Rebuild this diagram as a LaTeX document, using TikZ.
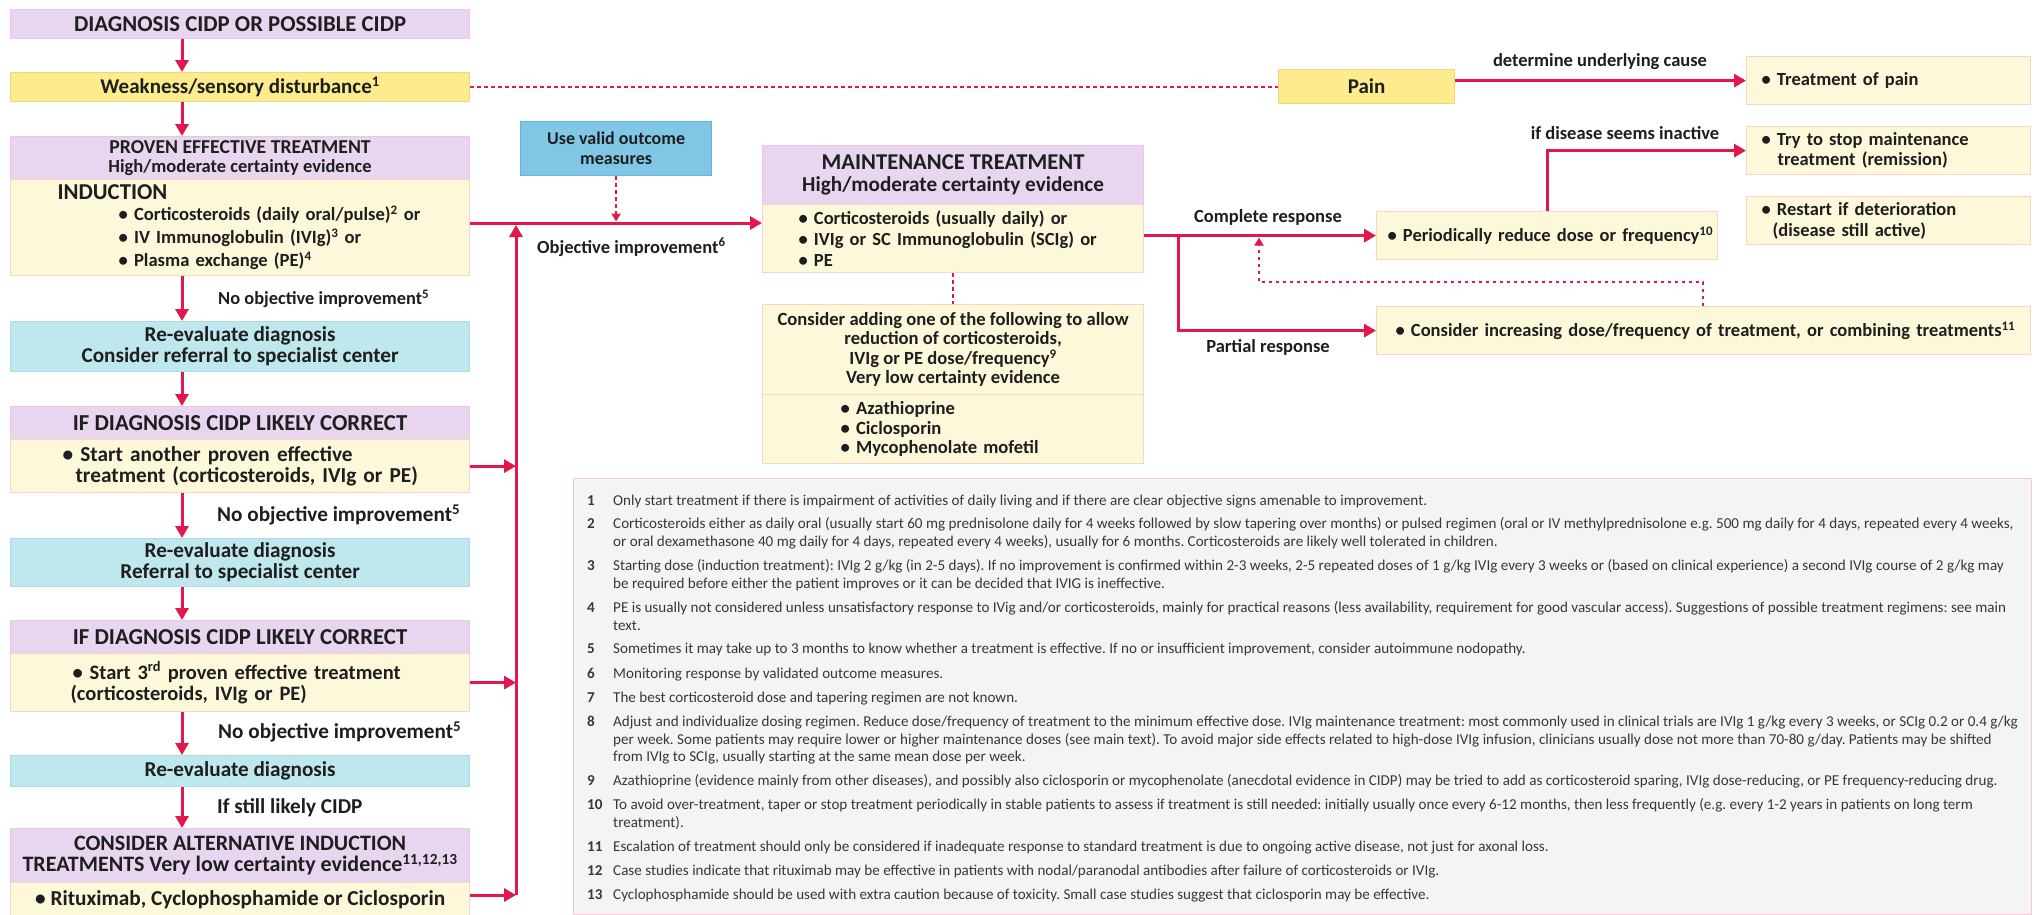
\documentclass[tikz,border=0pt]{standalone}
\usepackage{fontspec}
\setmainfont{Carlito}
\usetikzlibrary{arrows.meta}
\definecolor{lav}{HTML}{E8D6F0}
\definecolor{lavd}{HTML}{F1C4DD}
\definecolor{crm}{HTML}{FDF8DA}
\definecolor{crmd}{HTML}{F8D5C4}
\definecolor{gld}{HTML}{FCEC8E}
\definecolor{gldd}{HTML}{F4D47C}
\definecolor{cyn}{HTML}{BFE8EE}
\definecolor{cynd}{HTML}{A9DCE6}
\definecolor{sky}{HTML}{80C7E5}
\definecolor{skyd}{HTML}{6AB2D8}
\definecolor{rd}{HTML}{E2174B}
\definecolor{fng}{HTML}{F4F4F4}
\definecolor{fnd}{HTML}{F3C9D8}
\definecolor{txt}{HTML}{1E1E1E}
\definecolor{ftx}{HTML}{383838}
\newcommand{\fs}[2]{\fontsize{#1}{#2}\selectfont}
\newcommand{\ind}[1]{\hspace*{#1pt}}
\frenchspacing
\tikzset{
 bx/.style={anchor=north west, inner sep=0pt, line width=1.2pt, text=txt},
 lavb/.style={bx, fill=lav, draw=lavd},
 crmb/.style={bx, fill=crm, draw=crmd},
 gldb/.style={bx, fill=gld, draw=gldd},
 cynb/.style={bx, fill=cyn, draw=cynd},
 skyb/.style={bx, fill=sky, draw=skyd},
 arr/.style={draw=rd, line width=3pt, -{Triangle[length=12pt,width=13pt]}},
 dln/.style={draw=rd, line width=2.5pt, dash pattern=on 3.5pt off 3.5pt},
 darr/.style={dln, -{Triangle[length=8pt,width=9pt]}},
 lbl/.style={inner sep=0pt, text=txt, font=\bfseries\fs{18.5}{20}},
 fnum/.style={anchor=base west, inner sep=0pt, text=ftx, font=\bfseries\fs{15.1}{16}},
 ftxt/.style={anchor=base west, inner sep=0pt, text=ftx, font=\fs{15.1}{16}},
}
\begin{document}
\begin{tikzpicture}[x=1pt,y=-1pt]
\useasboundingbox[fill=white] (0,0) rectangle (2035,914);
% ---------- footnote panel ----------
\node[anchor=north west, fill=fng, draw=fnd, line width=1.2pt, minimum width=1458pt, minimum height=436pt, inner sep=0pt] (fn) at (573,478) {};
\node[fnum] (f1n) at (587,505.5) {1};
\node[ftxt] (f1) at (613,505.5) {Only start treatment if there is impairment of activities of daily living and if there are clear objective signs amenable to improvement.};
\node[fnum] (f2n) at (587,528.5) {2};
\node[ftxt] (f2a) at (613,528.5) {Corticosteroids either as daily oral (usually start 60 mg prednisolone daily for 4 weeks followed by slow tapering over months) or pulsed regimen (oral or IV methylprednisolone e.g. 500 mg daily for 4 days, repeated every 4 weeks,};
\node[ftxt] (f2b) at (613,546) {or oral dexamethasone 40 mg daily for 4 days, repeated every 4 weeks), usually for 6 months. Corticosteroids are likely well tolerated in children.};
\node[fnum] (f3n) at (587,570.5) {3};
\node[ftxt] (f3a) at (613,570.5) {Starting dose (induction treatment): IVIg 2 g/kg (in 2-5 days). If no improvement is confirmed within 2-3 weeks, 2-5 repeated doses of 1 g/kg IVIg every 3 weeks or (based on clinical experience) a second IVIg course of 2 g/kg may};
\node[ftxt] (f3b) at (613,588) {be required before either the patient improves or it can be decided that IVIG is ineffective.};
\node[fnum] (f4n) at (587,612.5) {4};
\node[ftxt] (f4a) at (613,612.5) {PE is usually not considered unless unsatisfactory response to IVig and/or corticosteroids, mainly for practical reasons (less availability, requirement for good vascular access). Suggestions of possible treatment regimens: see main};
\node[ftxt] (f4b) at (613,630) {text.};
\node[fnum] (f5n) at (587,653.5) {5};
\node[ftxt] (f5) at (613,653.5) {Sometimes it may take up to 3 months to know whether a treatment is effective. If no or insufficient improvement, consider autoimmune nodopathy.};
\node[fnum] (f6n) at (587,678.5) {6};
\node[ftxt] (f6) at (613,678.5) {Monitoring response by validated outcome measures.};
\node[fnum] (f7n) at (587,702.5) {7};
\node[ftxt] (f7) at (613,702.5) {The best corticosteroid dose and tapering regimen are not known.};
\node[fnum] (f8n) at (587,726.5) {8};
\node[ftxt] (f8a) at (613,726.5) {Adjust and individualize dosing regimen. Reduce dose/frequency of treatment to the minimum effective dose. IVIg maintenance treatment: most commonly used in clinical trials are IVIg 1 g/kg every 3 weeks, or SCIg 0.2 or 0.4 g/kg};
\node[ftxt] (f8b) at (613,744) {per week. Some patients may require lower or higher maintenance doses (see main text). To avoid major side effects related to high-dose IVIg infusion, clinicians usually dose not more than 70-80 g/day. Patients may be shifted};
\node[ftxt] (f8c) at (613,761.5) {from IVIg to SCIg, usually starting at the same mean dose per week.};
\node[fnum] (f9n) at (587,785.5) {9};
\node[ftxt] (f9) at (613,785.5) {Azathioprine (evidence mainly from other diseases), and possibly also ciclosporin or mycophenolate (anecdotal evidence in CIDP) may be tried to add as corticosteroid sparing, IVIg dose-reducing, or PE frequency-reducing drug.};
\node[fnum] (f10n) at (587,809.5) {10};
\node[ftxt] (f10a) at (613,809.5) {To avoid over-treatment, taper or stop treatment periodically in stable patients to assess if treatment is still needed: initially usually once every 6-12 months, then less frequently (e.g. every 1-2 years in patients on long term};
\node[ftxt] (f10b) at (613,827) {treatment).};
\node[fnum] (f11n) at (587,851.5) {11};
\node[ftxt] (f11) at (613,851.5) {Escalation of treatment should only be considered if inadequate response to standard treatment is due to ongoing active disease, not just for axonal loss.};
\node[fnum] (f12n) at (587,875.5) {12};
\node[ftxt] (f12) at (613,875.5) {Case studies indicate that rituximab may be effective in patients with nodal/paranodal antibodies after failure of corticosteroids or IVIg.};
\node[fnum] (f13n) at (587,899.5) {13};
\node[ftxt] (f13) at (613,899.5) {Cyclophosphamide should be used with extra caution because of toxicity. Small case studies suggest that ciclosporin may be effective.};
% ---------- left column ----------
\node[lavb, minimum width=459pt, minimum height=29pt, font=\bfseries\fs{22.7}{24}] (dx) at (10,9) {DIAGNOSIS CIDP OR POSSIBLE CIDP};
\node[gldb, minimum width=459pt, minimum height=29pt, font=\bfseries\fs{21}{24}] (wk) at (10,72) {Weakness/sensory disturbance\textsuperscript{1}};
\node[lavb, minimum width=459pt, minimum height=43pt, align=center, font=\bfseries\fs{18.5}{18.5}] (p1h) at (10,136) {{\fs{19.7}{18.5}PROVEN EFFECTIVE TREATMENT}\\High/moderate certainty evidence};
\node[crmb, minimum width=459pt, minimum height=96pt, align=left, text width=459pt, font=\bfseries\fs{18.6}{23}] (p1b) at (10,179) {\ind{47}{\fs{22.7}{23}INDUCTION}\\[-2pt]\ind{108}• Corticosteroids (daily oral/pulse)\textsuperscript{2} or\\\ind{108}• IV Immunoglobulin (IVIg)\textsuperscript{3} or\\\ind{108}• Plasma exchange (PE)\textsuperscript{4}};
\node[cynb, minimum width=459pt, minimum height=50pt, align=center, font=\bfseries\fs{21.2}{21}] (r1) at (10,321) {Re-evaluate diagnosis\\Consider referral to specialist center};
\node[lavb, minimum width=459pt, minimum height=33pt, font=\bfseries\fs{22.8}{22}] (i1h) at (10,406) {IF DIAGNOSIS CIDP LIKELY CORRECT};
\node[crmb, minimum width=459pt, minimum height=53pt, align=left, text width=459pt, font=\bfseries\fs{21.3}{21}] (i1b) at (10,439) {\ind{52}• Start another proven effective\\\ind{65}treatment (corticosteroids, IVIg or PE)};
\node[cynb, minimum width=459pt, minimum height=48pt, align=center, font=\bfseries\fs{21.2}{21}] (r2) at (10,538) {Re-evaluate diagnosis\\Referral to specialist center};
\node[lavb, minimum width=459pt, minimum height=33pt, font=\bfseries\fs{22.8}{22}] (i2h) at (10,620) {IF DIAGNOSIS CIDP LIKELY CORRECT};
\node[crmb, minimum width=459pt, minimum height=58pt, align=left, text width=459pt, font=\bfseries\fs{20.5}{21}] (i2b) at (10,653) {\ind{62}• Start 3\textsuperscript{rd} proven effective treatment\\\ind{60}(corticosteroids, IVIg or PE)};
\node[cynb, minimum width=459pt, minimum height=31pt, font=\bfseries\fs{21.2}{21}] (r3) at (10,755) {Re-evaluate diagnosis};
\node[lavb, minimum width=459pt, minimum height=54pt, align=center, font=\bfseries\fs{22}{21.5}] (ch) at (10,828) {CONSIDER ALTERNATIVE INDUCTION\\TREATMENTS Very low certainty evidence\textsuperscript{11,12,13}};
\node[crmb, minimum width=459pt, minimum height=34pt, font=\bfseries\fs{21.3}{22}] (cb) at (10,882) {• Rituximab, Cyclophosphamide or Ciclosporin};
\node[lbl, anchor=west, font=\bfseries\fs{18.4}{20}] (n1) at (218,299) {No objective improvement\textsuperscript{5}};
\node[lbl, anchor=west, font=\bfseries\fs{21.2}{22}] (n2) at (217,515) {No objective improvement\textsuperscript{5}};
\node[lbl, anchor=west, font=\bfseries\fs{21.2}{22}] (n3) at (218,732) {No objective improvement\textsuperscript{5}};
\node[lbl, anchor=west, font=\bfseries\fs{21.2}{22}] (n4) at (217,808) {If still likely CIDP};
\coordinate (cx) at (182,0);
\coordinate (vl) at (516,0);
\coordinate (hy) at (0,223);
\coordinate (by) at (0,895);
\coordinate (vtop) at (516,225);
\draw[arr] (dx.south -| cx) -- (wk.north -| cx);
\draw[arr] (wk.south -| cx) -- (p1h.north -| cx);
\draw[arr] (p1b.south -| cx) -- (r1.north -| cx);
\draw[arr] (r1.south -| cx) -- (i1h.north -| cx);
\draw[arr] (i1b.south -| cx) -- (r2.north -| cx);
\draw[arr] (r2.south -| cx) -- (i2h.north -| cx);
\draw[arr] (i2b.south -| cx) -- (r3.north -| cx);
\draw[arr] (r3.south -| cx) -- (ch.north -| cx);
% ---------- middle ----------
\node[skyb, minimum width=191pt, minimum height=54pt, align=center, font=\bfseries\fs{18}{20}] (uv) at (520,121) {Use valid outcome\\measures};
\node[lavb, minimum width=381pt, minimum height=59pt, align=center, font=\bfseries\fs{21.2}{22}] (m1h) at (762,145) {{\fs{22.6}{22}MAINTENANCE TREATMENT}\\High/moderate certainty evidence};
\node[crmb, minimum width=381pt, minimum height=68pt, align=left, text width=381pt, font=\bfseries\fs{18.5}{21}] (m1b) at (762,204) {\ind{36}• Corticosteroids (usually daily) or\\\ind{36}• IVIg or SC Immunoglobulin (SCIg) or\\\ind{36}• PE};
\node[crmb, minimum width=381pt, minimum height=90pt, align=center, font=\bfseries\fs{18.6}{19.5}] (m2a) at (762,304) {Consider adding one of the following to allow\\reduction of corticosteroids,\\IVIg or PE dose/frequency\textsuperscript{9}\\Very low certainty evidence};
\node[crmb, minimum width=381pt, minimum height=69pt, align=left, text width=381pt, font=\bfseries\fs{18.6}{19.5}] (m2b) at (762,394) {\ind{78}• Azathioprine\\\ind{78}• Ciclosporin\\\ind{78}• Mycophenolate mofetil};
\node[lbl, anchor=west] (loi) at (537,247) {Objective improvement\textsuperscript{6}};
\draw[darr] (uv.south) -- ([yshift=1.5pt]uv.south |- hy);
\draw[dln] (m1b.south) -- (m2a.north);
\draw[arr] (p1b.east |- hy) -- (m1b.west |- hy);
\draw[arr] (vl |- by) -- (vtop);
\draw[arr] (i1b.east) -- (i1b.east -| vl);
\draw[arr] (i2b.east) -- (i2b.east -| vl);
\draw[arr] (cb.east |- by) -- (vl |- by);
% ---------- right ----------
\node[gldb, minimum width=176pt, minimum height=34pt, font=\bfseries\fs{21}{24}] (pn) at (1278,69) {Pain};
\node[crmb, minimum width=284pt, minimum height=48pt, align=left, text width=284pt, font=\bfseries\fs{18.5}{20}] (tp) at (1746,56) {\ind{15}• Treatment of pain};
\node[crmb, minimum width=284pt, minimum height=48pt, align=left, text width=284pt, font=\bfseries\fs{18.5}{20}] (ts) at (1746,126) {\ind{15}• Try to stop maintenance\\\ind{31}treatment (remission)};
\node[crmb, minimum width=284pt, minimum height=48pt, align=left, text width=284pt, font=\bfseries\fs{18.5}{21}] (rs) at (1746,196) {\ind{15}• Restart if deterioration\\\ind{26}(disease still active)};
\node[crmb, minimum width=341pt, minimum height=48pt, align=left, text width=341pt, font=\bfseries\fs{18.5}{21}] (pr) at (1376,211) {\ind{11}• Periodically reduce dose or frequency\textsuperscript{10}};
\node[crmb, minimum width=654pt, minimum height=48pt, align=left, text width=654pt, font=\bfseries\fs{18.5}{21}] (ci) at (1376,306) {\ind{19}• Consider increasing dose/frequency of treatment, or combining treatments\textsuperscript{11}};
\node[lbl] (ldu) at (1600,62) {determine underlying cause};
\node[lbl] (lin) at (1625,133) {if disease seems inactive};
\node[lbl] (lcr) at (1268,217) {Complete response};
\node[lbl] (lpr) at (1268,347) {Partial response};
\coordinate (bx) at (1178,0);
\coordinate (ix) at (1547,0);
\coordinate (fx1) at (1703,0);
\coordinate (fx2) at (1259,0);
\coordinate (fy) at (0,282);
\draw[dln] (wk.east) -- (wk.east -| pn.west);
\draw[arr] (pn.east |- tp.west) -- (tp.west);
\draw[arr] (m1b.east |- pr.west) -- (pr.west);
\draw[arr] (bx |- pr.west) -- (bx |- ci.west) -- (ci.west);
\draw[arr] (pr.north -| ix) |- (ts.west);
\draw[darr] (ci.north -| fx1) -- (fx1 |- fy) -- (fx2 |- fy) -- ([yshift=-2pt]fx2 |- pr.west);
\end{tikzpicture}
\end{document}
